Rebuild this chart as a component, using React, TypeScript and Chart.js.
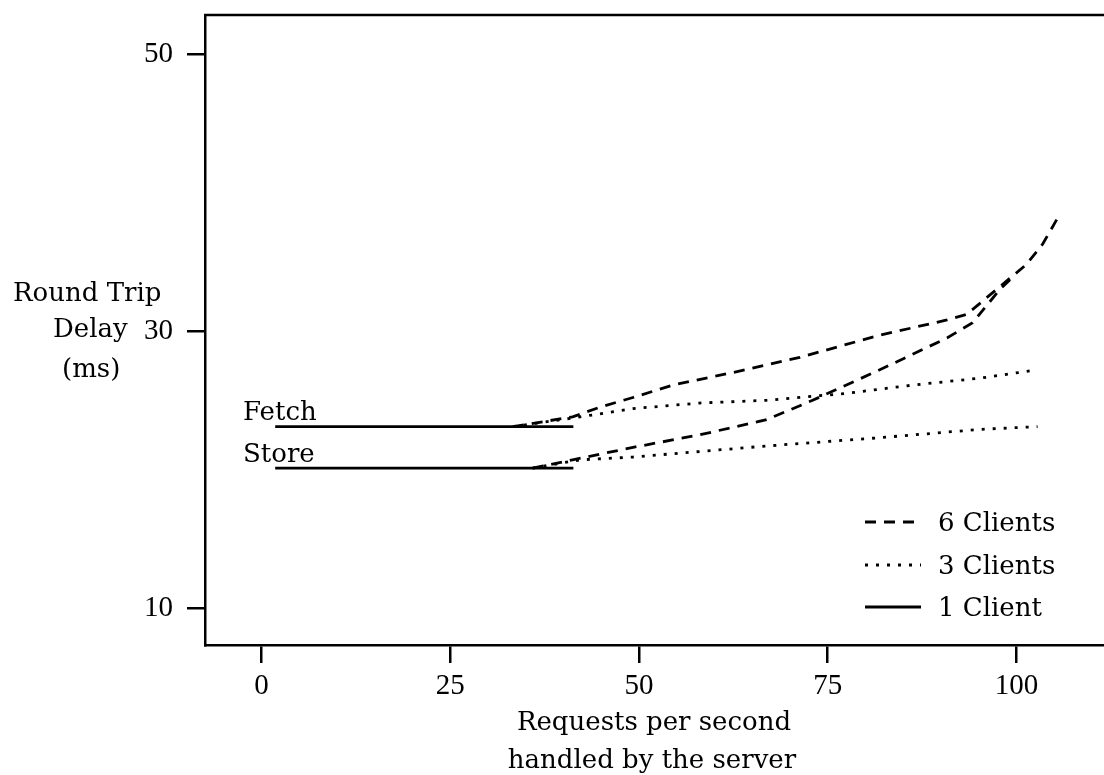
import React, { useEffect, useRef } from "react";
import { Chart, registerables } from "chart.js";

Chart.register(...registerables);

const FONT_TEXT = '"DejaVu Serif", serif';
const FONT_NUM = '"Liberation Serif", serif';

const xTicks = [0, 25, 50, 75, 100];
const yTicks = [10, 30, 50];

const oneClientX = [1.8, 41.3];
const fetch1Y = [23.1, 23.1];
const store1Y = [20.1, 20.1];

const fetch3X = [33.3, 42.2, 49.2, 58.0, 66.9, 77.5, 86.3, 95.2, 102.8];
const fetch3Y = [23.1, 23.8, 24.4, 24.8, 25.0, 25.5, 26.1, 26.6, 27.2];
const store3X = [35.9, 42.2, 49.2, 58.0, 66.9, 81.9, 95.2, 102.8];
const store3Y = [20.1, 20.7, 20.9, 21.3, 21.7, 22.3, 22.9, 23.1];

const fetch6X = [33.3, 41.2, 44.8, 49.2, 54.5, 62.4, 71.3, 81.9, 90.8, 93.4, 97.8, 101.3, 103.5, 105.5];
const fetch6Y = [23.1, 23.8, 24.5, 25.2, 26.1, 27.0, 28.1, 29.7, 30.8, 31.2, 33.2, 34.8, 36.3, 38.2];
const store6X = [35.9, 41.2, 49.2, 58.0, 66.9, 73.0, 81.9, 90.8, 94.2, 97.8, 99.5];
const store6Y = [20.1, 20.7, 21.6, 22.5, 23.6, 25.0, 27.2, 29.5, 30.6, 33.0, 33.9];

const legendLabels = ["6 Clients", "3 Clients", "1 Client"];
const seriesLabels = ["Fetch", "Store"];
const yTitle = ["Round Trip", "Delay", "(ms)"];
const xTitle = ["Requests per second", "handled by the server"];

const DASH = [11, 8];
const DOT = [3, 8];

const pts = (xs: number[], ys: number[]) => xs.map((x, i) => ({ x, y: ys[i] }));

const annotations = {
  id: "annotations",
  afterDraw(chart: any) {
    const ctx = chart.ctx as CanvasRenderingContext2D;
    const a = chart.chartArea;
    ctx.save();
    ctx.strokeStyle = "#000";
    ctx.lineWidth = 2.5;
    ctx.beginPath();
    ctx.moveTo(a.left - 1, a.top);
    ctx.lineTo(a.right, a.top);
    ctx.stroke();

    ctx.fillStyle = "#000";
    ctx.font = `26px ${FONT_TEXT}`;
    ctx.textBaseline = "alphabetic";
    ctx.textAlign = "left";
    ctx.fillText(yTitle[0], 13, 301);
    ctx.fillText(yTitle[1], 53, 337);
    ctx.fillText(yTitle[2], 62, 377);

    ctx.fillText(seriesLabels[0], 243, 420);
    ctx.fillText(seriesLabels[1], 243, 462);

    ctx.textAlign = "center";
    ctx.fillText(xTitle[0], 654, 730);
    ctx.fillText(xTitle[1], 652, 768);

    // legend
    const rows = [522, 565, 607];
    const dashes = [DASH, DOT, []];
    rows.forEach((ry, i) => {
      ctx.save();
      ctx.lineWidth = 2.8;
      ctx.setLineDash(dashes[i] as number[]);
      ctx.beginPath();
      ctx.moveTo(865, ry);
      ctx.lineTo(921, ry);
      ctx.stroke();
      ctx.restore();
      ctx.textAlign = "left";
      ctx.fillText(legendLabels[i], 938, ry + 9);
    });
    ctx.restore();
  },
};

export default function App() {
  const ref = useRef<HTMLCanvasElement | null>(null);
  useEffect(() => {
    if (!ref.current) return;
    const common = { borderColor: "#000", pointRadius: 0, fill: false, tension: 0, borderWidth: 2.8 };
    const chart = new Chart(ref.current, {
      type: "line",
      data: {
        datasets: [
          { ...common, label: "6 Clients Fetch", data: pts(fetch6X, fetch6Y), borderDash: DASH },
          { ...common, label: "6 Clients Store", data: pts(store6X, store6Y), borderDash: DASH },
          { ...common, label: "3 Clients Fetch", data: pts(fetch3X, fetch3Y), borderDash: DOT },
          { ...common, label: "3 Clients Store", data: pts(store3X, store3Y), borderDash: DOT },
          { ...common, label: "1 Client Fetch", data: pts(oneClientX, fetch1Y) },
          { ...common, label: "1 Client Store", data: pts(oneClientX, store1Y) },
        ],
      },
      options: {
        responsive: false,
        animation: false,
        layout: { padding: { top: 15, right: 0, left: 0, bottom: 0 } },
        plugins: { legend: { display: false }, tooltip: { enabled: false }, title: { display: false } },
        scales: {
          x: {
            type: "linear",
            min: -7.5,
            max: 111.6,
            afterBuildTicks: (s: any) => {
              s.ticks = xTicks.map((v) => ({ value: v }));
            },
            afterFit: (s: any) => {
              s.height = 130;
              s.paddingLeft = 0;
              s.paddingRight = 0;
            },
            grid: { drawOnChartArea: false, drawTicks: true, tickLength: 18, color: "#000", lineWidth: 2.5 },
            border: { display: true, color: "#000", width: 2.5 },
            ticks: {
              color: "#000",
              font: { family: FONT_NUM, size: 29 },
              padding: 6,
              maxRotation: 0,
              autoSkip: false,
            },
          },
          y: {
            type: "linear",
            min: 7.33,
            max: 52.82,
            afterBuildTicks: (s: any) => {
              s.ticks = yTicks.map((v) => ({ value: v }));
            },
            afterFit: (s: any) => {
              s.width = 205;
              s.paddingTop = 0;
              s.paddingBottom = 0;
            },
            grid: { drawOnChartArea: false, drawTicks: true, tickLength: 18, color: "#000", lineWidth: 2.5 },
            border: { display: true, color: "#000", width: 2.5 },
            ticks: {
              color: "#000",
              font: { family: FONT_NUM, size: 29 },
              padding: 14,
              autoSkip: false,
            },
          },
        },
      },
      plugins: [annotations],
    } as any);
    return () => chart.destroy();
  }, []);
  return (
    <div style={{ position: "absolute", left: 0, top: 0, width: 1104, height: 775, background: "#fff" }}>
      <canvas ref={ref} width={1104} height={775} style={{ display: "block" }} />
    </div>
  );
}
